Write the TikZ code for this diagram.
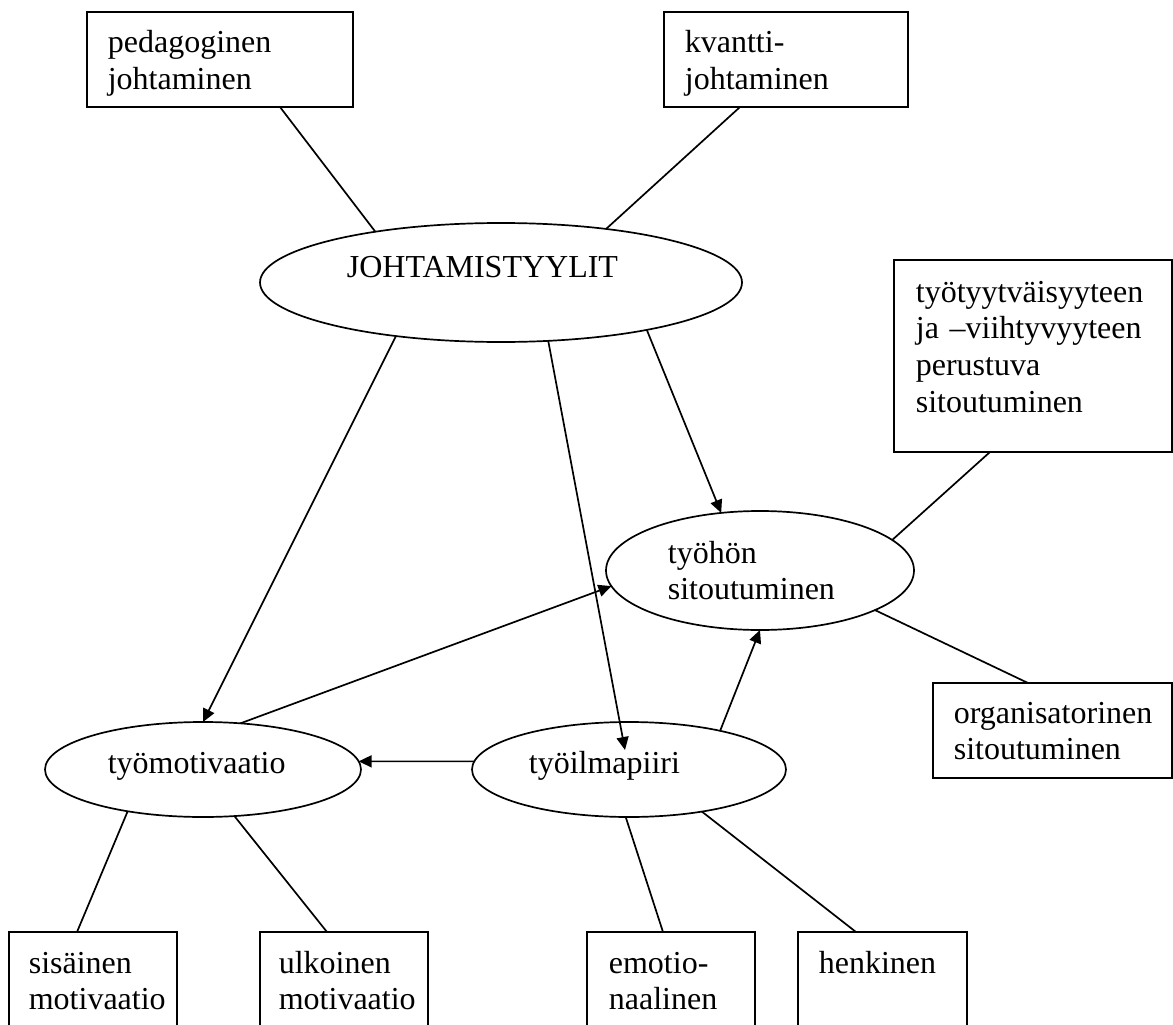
\documentclass[tikz,border=0pt]{standalone}
\usepackage{fontspec}
\setmainfont{Liberation Serif}
\usetikzlibrary{arrows.meta,shapes.geometric,calc}
\begin{document}
\begin{tikzpicture}[x=1pt,y=-1pt,
  line width=1.7pt,
  oval/.style 2 args={draw, ellipse, inner sep=0pt, outer sep=0pt,
    minimum width=#1, minimum height=#2},
  box/.style 2 args={draw, rectangle, anchor=north west, inner sep=0pt,
    outer sep=0pt, minimum width=#1, minimum height=#2},
  lbl/.style={anchor=base west, inner sep=0pt, align=left, text width=300pt,
    font=\fontsize{32}{36.8}\selectfont},
  arr/.style={-{Triangle[length=13pt,width=12pt]}}
]
\useasboundingbox (0,0) rectangle (1173,1025);
\fill[white] (0,0) rectangle (1173,1025);
\clip (0,0) rectangle (1173,1025);

% ellipses
\node[oval={482}{119}] (johta) at (501,282.5) {};
\node[oval={308}{119}] (sitou) at (760,570.5) {};
\node[oval={316}{95}]  (motiv) at (203,769.5) {};
\node[oval={314}{95}]  (ilma)  at (629,769.5) {};

% ellipse texts
\node[lbl] (johtatxt) at (346,277) {JOHTAMISTYYLIT};
\node[lbl] (sitoutxt) at (667,563) {työhön\\sitoutuminen};
\node[lbl] (motivtxt) at (107,773) {työmotivaatio};
\node[lbl] (ilmatxt)  at (528,773) {työilmapiiri};

% boxes
\node[box={266}{95}]  (ped)  at (87,12)   {};
\node[box={244}{95}]  (kvan) at (664,12)  {};
\node[box={278}{192}] (tyyt) at (894,260) {};
\node[box={239}{95}]  (org)  at (933,683) {};
\node[box={168}{120}] (sis)  at (9,932)   {};
\node[box={168}{120}] (ulk)  at (260,932) {};
\node[box={168}{120}] (emo)  at (587,932) {};
\node[box={169}{120}] (henk) at (798,932) {};

% box texts
\node[lbl] (pedtxt)  at ([shift={(20pt,-41pt)}]ped.north west)  {pedagoginen\\johtaminen};
\node[lbl] (kvantxt) at ([shift={(20pt,-41pt)}]kvan.north west) {kvantti-\\johtaminen};
\node[lbl] (tyyttxt) at ([shift={(21pt,-42pt)}]tyyt.north west) {työtyytväisyyteen\\ja –viihtyvyyteen\\perustuva\\sitoutuminen};
\node[lbl] (orgtxt)  at ([shift={(20pt,-40pt)}]org.north west)  {organisatorinen\\sitoutuminen};
\node[lbl] (sistxt)  at ([shift={(19pt,-41pt)}]sis.north west)  {sisäinen\\motivaatio};
\node[lbl] (ulktxt)  at ([shift={(18pt,-41pt)}]ulk.north west)  {ulkoinen\\motivaatio};
\node[lbl] (emotxt)  at ([shift={(21pt,-41pt)}]emo.north west)  {emotio-\\naalinen};
\node[lbl] (henktxt) at ([shift={(20pt,-41pt)}]henk.north west) {henkinen};

% plain connectors
\draw ([xshift=60pt]ped.south) -- (johta.158);
\draw ([xshift=-46pt]kvan.south) -- (johta.27);
\draw (sitou.13) -- ([xshift=-43pt]tyyt.south);
\draw (sitou.-19) -- ([xshift=-24.5pt]org.north);
\draw (motiv.209) -- ([xshift=-16pt]sis.north);
\draw (motiv.-56) -- ([xshift=-17pt]ulk.north);
\draw (ilma.-94) -- ([xshift=-8pt]emo.north);
\draw (ilma.-30) -- ([xshift=-26.5pt]henk.north);

% arrows
\draw[arr] (johta.207) -- (motiv.90);
\draw[arr] (johta.-51) -- ([shift={(-4pt,19.5pt)}]ilma.center);
\draw[arr] (johta.-18) -- (sitou.124);
\draw[arr] (motiv.51) -- (sitou.186);
\draw[arr] (ilma.23) -- (sitou.-90);
\draw[arr] (ilma.177) -- (motiv.3);
\end{tikzpicture}
\end{document}
